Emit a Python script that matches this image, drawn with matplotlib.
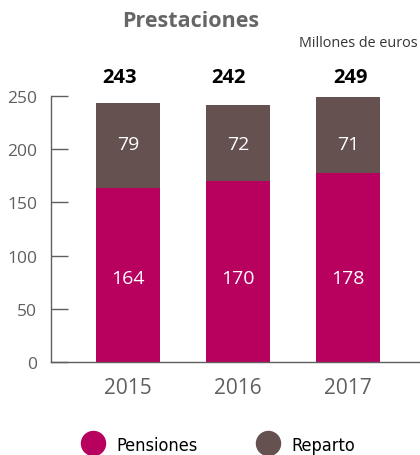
import matplotlib.pyplot as plt
from matplotlib.lines import Line2D

years = ['2015', '2016', '2017']
pensiones = [164, 170, 178]
reparto = [79, 72, 71]
totales = [243, 242, 249]
yticks = [0, 50, 100, 150, 200, 250]
series = ['Pensiones', 'Reparto']

c_pen = '#B8005F'
c_rep = '#645150'
gris = '#5f5f5f'

plt.rcParams['font.family'] = ['Open Sans', 'DejaVu Sans']

fig = plt.figure(figsize=(4.2, 4.56), dpi=100)
ax = fig.add_axes([51 / 420, 93 / 456, 369 / 420, 266 / 456])

x = list(range(len(years)))
ax.bar(x, pensiones, width=0.58, color=c_pen)
ax.bar(x, reparto, width=0.58, bottom=pensiones, color=c_rep)

# en el original las etiquetas van a altura fija, no centradas en cada tramo
desplaz = [-0.077, -0.09, 0.02]
for i in x:
    ax.text(i, 79, str(pensiones[i]), ha='center', va='center',
            color='white', fontsize=14)
    ax.text(i, 205, str(reparto[i]), ha='center',
            va='center', color='white', fontsize=14)
    ax.text(i + desplaz[i], 263, str(totales[i]), ha='center', va='baseline',
            color='black', fontsize=14.5, fontweight='bold', clip_on=False)

ax.set_xlim(-0.7, 2.655)
ax.set_ylim(0, 250)
ax.set_yticks(yticks)
ax.set_xticks(x)
ax.set_xticklabels(years)
ax.tick_params(axis='y', direction='in', length=12, width=1, color=gris,
               labelcolor=gris, labelsize=12.5, pad=10)
ax.tick_params(axis='x', length=0, labelcolor=gris, labelsize=15, pad=11)
for s in ['top', 'right']:
    ax.spines[s].set_visible(False)
for s in ['left', 'bottom']:
    ax.spines[s].set_color(gris)
    ax.spines[s].set_linewidth(1)

fig.text(191 / 420, 1 - 27 / 456, 'Prestaciones', ha='center', va='baseline',
         fontsize=15.5, fontweight='bold', color='#666666')
fig.text(1 - 2 / 420, 1 - 47 / 456, 'Millones de euros', ha='right', va='baseline',
         fontsize=10.4, color='#333333')

# leyenda manual
ley_x = [93, 267.5]
for nombre, col, lx in zip(series, [c_pen, c_rep], ley_x):
    fig.add_artist(Line2D([lx / 420], [1 - 444 / 456], transform=fig.transFigure,
                          marker='o', markersize=17.3, color=col, linestyle=''))
    fig.text((lx + 23.5) / 420, 1 - 451 / 456, nombre, ha='left', va='baseline',
             fontsize=13, color='black', family='DejaVu Sans',
             fontstretch='condensed')

fig.savefig('out.png', dpi=100)
